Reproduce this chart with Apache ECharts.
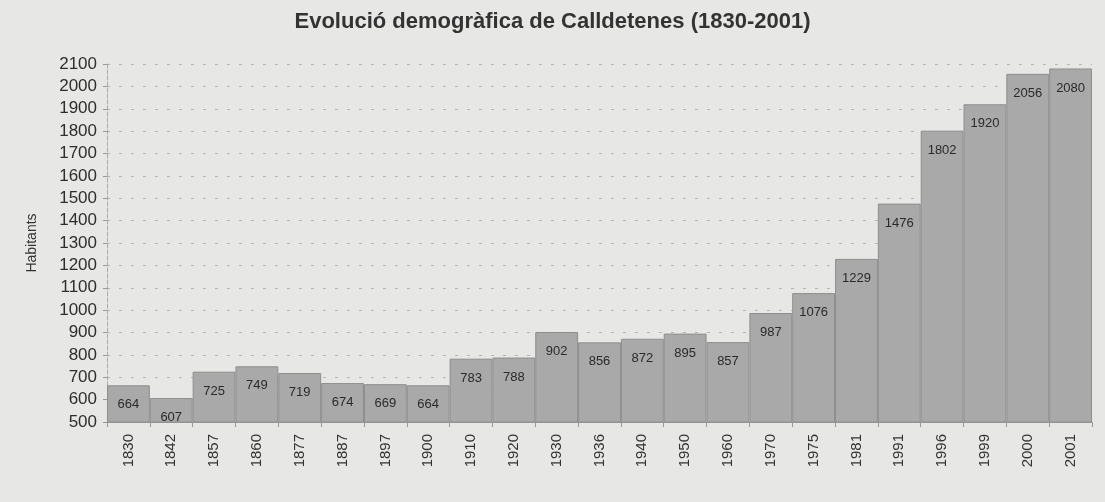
<!DOCTYPE html>
<html>
<head>
<meta charset="utf-8">
<script src="https://cdn.jsdelivr.net/npm/echarts@6/dist/echarts.min.js"></script>
<style>
  html, body { margin: 0; padding: 0; background: #e7e7e5; }
  #chart { width: 1105px; height: 502px; }
</style>
</head>
<body>
<div id="chart"></div>
<script>
var years = ['1830', '1842', '1857', '1860', '1877', '1887', '1897', '1900', '1910', '1920',
  '1930', '1936', '1940', '1950', '1960', '1970', '1975', '1981', '1991', '1996',
  '1999', '2000', '2001'];
var habitants = [664, 607, 725, 749, 719, 674, 669, 664, 783, 788,
  902, 856, 872, 895, 857, 987, 1076, 1229, 1476, 1802,
  1920, 2056, 2080];

var myChart = echarts.init(document.getElementById('chart'));

var option = {
  backgroundColor: '#e7e7e5',
  title: {
    text: 'Evolució demogràfica de Calldetenes (1830-2001)',
    left: 'center',
    top: 6,
    textStyle: { fontFamily: 'Liberation Sans', fontSize: 22, fontWeight: 'bold', color: '#333' }
  },
  grid: { left: 107, right: 13, top: 64, bottom: 80 },
  xAxis: {
    type: 'category',
    data: years,
    axisLine: { lineStyle: { color: '#999' } },
    axisTick: { show: true, lineStyle: { color: '#999' } },
    axisLabel: {
      rotate: 90,
      interval: 0,
      margin: 12,
      fontFamily: 'Liberation Sans',
      fontSize: 15,
      color: '#333'
    }
  },
  yAxis: {
    type: 'value',
    min: 500,
    max: 2100,
    interval: 100,
    name: 'Habitants',
    nameLocation: 'middle',
    nameGap: 68,
    nameRotate: 90,
    nameTextStyle: { fontFamily: 'Liberation Sans', fontSize: 14, color: '#333' },
    axisLine: { show: true, lineStyle: { color: '#aaa', type: 'dashed' } },
    axisTick: { show: true, length: 4, lineStyle: { color: '#999' } },
    axisLabel: {
      fontFamily: 'Liberation Sans', fontSize: 17, color: '#2e2e2e', margin: 10,
      formatter: function (v) { return String(v); }
    },
    splitLine: { lineStyle: { color: '#b5b5b5', type: [3, 9] } }
  },
  series: [{
    type: 'bar',
    data: habitants,
    barCategoryGap: 0,
    itemStyle: { color: '#a9a9a9', borderColor: '#8e8e8e', borderWidth: 1 },
    label: {
      show: true,
      position: 'insideTop',
      distance: 13,
      fontFamily: 'Liberation Sans',
      fontSize: 13,
      color: '#2a2a2a'
    }
  }]
};

myChart.setOption(option);
</script>
</body>
</html>
